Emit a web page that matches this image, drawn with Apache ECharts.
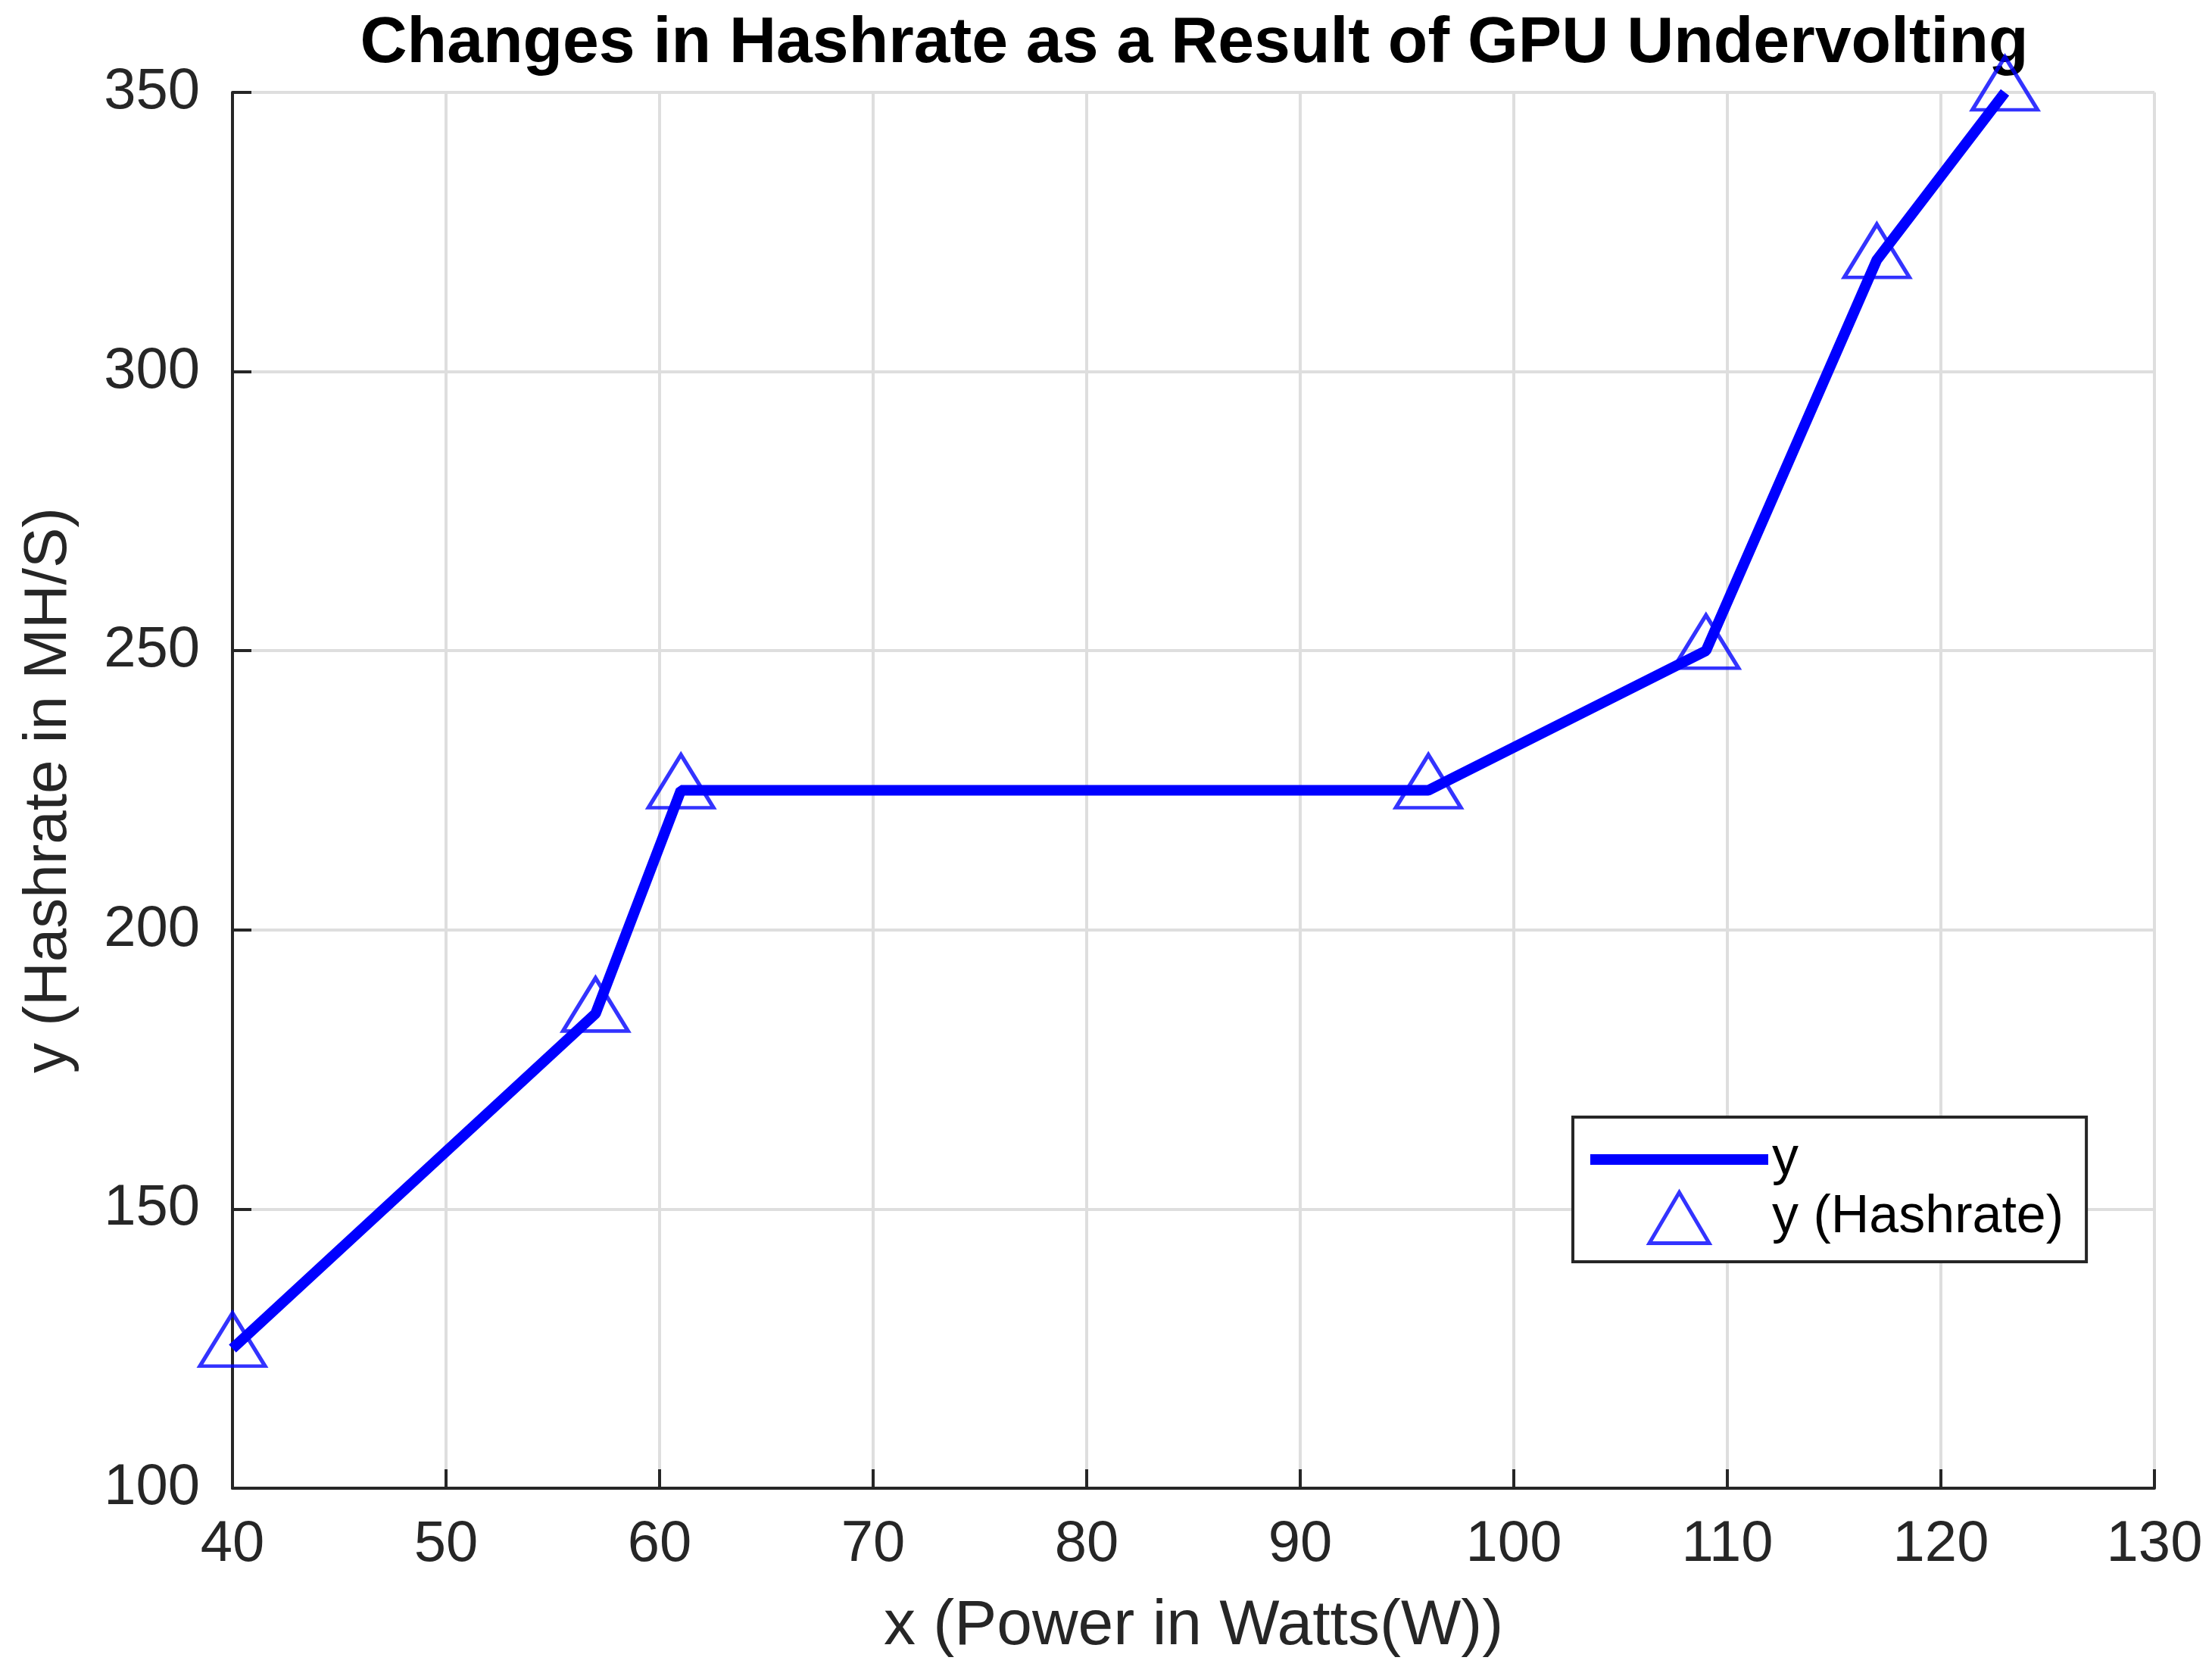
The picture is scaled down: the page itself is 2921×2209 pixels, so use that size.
<!DOCTYPE html>
<html>
<head>
<meta charset="utf-8">
<title>Changes in Hashrate as a Result of GPU Undervolting</title>
<script src="https://cdn.jsdelivr.net/npm/echarts@6/dist/echarts.min.js"></script>
<style>
  html, body { margin: 0; padding: 0; background: #fff; }
  #main { width: 2921px; height: 2209px; }
</style>
</head>
<body>
<div id="main"></div>
<script>
// power (W) and hashrate (MH/S)
var powerW = [40, 57, 61, 96, 109, 117, 123];
var hashrate = [125, 185, 225, 225, 250, 320, 350];

var xTicks = { min: 40, max: 130, step: 10 };
var yTicks = { min: 100, max: 350, step: 50 };

var titleText = 'Changes in Hashrate as a Result of GPU Undervolting';
var xName = 'x (Power in Watts(W))';
var yName = 'y (Hashrate in MH/S)';
var lineName = 'y';
var markerName = 'y (Hashrate)';

var points = powerW.map(function (x, i) { return [x, hashrate[i]]; });

var font = "'Liberation Sans', Arial, Helvetica, sans-serif";
var axisColor = '#262626';
var blue = '#0000ff';

var chart = echarts.init(document.getElementById('main'));

function axisCommon() {
  return {
    axisLine: { show: true, lineStyle: { color: axisColor, width: 4 } },
    axisTick: { show: true, inside: true, length: 25, lineStyle: { color: axisColor, width: 4 } },
    splitLine: { show: true, lineStyle: { color: '#dedede', width: 4 } }
  };
}

var xAxis = Object.assign(axisCommon(), {
  type: 'value',
  min: xTicks.min, max: xTicks.max, interval: xTicks.step,
  name: xName, nameLocation: 'middle', nameGap: 141,
  nameTextStyle: { fontFamily: font, fontSize: 84, color: axisColor },
  axisLabel: { fontFamily: font, fontSize: 76, color: axisColor, margin: 37 }
});

var yAxis = Object.assign(axisCommon(), {
  type: 'value',
  min: yTicks.min, max: yTicks.max, interval: yTicks.step,
  name: yName, nameLocation: 'middle', nameGap: 202, nameRotate: 90,
  nameTextStyle: { fontFamily: font, fontSize: 80, color: axisColor },
  axisLabel: { fontFamily: font, fontSize: 76, color: axisColor, margin: 43 }
});

chart.setOption({
  backgroundColor: '#ffffff',
  animation: false,
  title: {
    text: titleText,
    left: 1572, top: 10, textAlign: 'center', z: 1,
    textStyle: { fontFamily: font, fontSize: 86, fontWeight: 'bold', color: '#000' }
  },
  grid: { left: 307, right: 76, top: 122, bottom: 244, containLabel: false, outerBoundsMode: 'none' },
  legend: {
    orient: 'vertical',
    left: 2077, top: 1475,
    padding: [21, 30, 22, 23],
    itemWidth: 235, itemHeight: 67, itemGap: 6,
    borderColor: axisColor, borderWidth: 4,
    backgroundColor: '#fff',
    textStyle: { fontFamily: font, fontSize: 70, color: '#000', lineHeight: 70 },
    data: [
      {
        name: lineName,
        icon: 'path://M0,0H235V14H0Z',
        itemStyle: { color: blue, borderWidth: 0 }
      },
      {
        name: markerName,
        icon: 'path://M0,67L39.5,0L79,67Z',
        itemStyle: { color: 'rgba(0,0,0,0)', borderColor: blue, borderWidth: 5 }
      }
    ]
  },
  xAxis: xAxis,
  yAxis: yAxis,
  series: [
    {
      name: lineName,
      type: 'line',
      data: points,
      symbol: 'none',
      color: blue,
      lineStyle: { color: blue, width: 14 },
      z: 3
    },
    {
      name: markerName,
      type: 'scatter',
      data: points,
      symbol: 'triangle',
      symbolSize: [86, 70],
      symbolOffset: [0, -12],
      clip: false,
      itemStyle: { color: 'rgba(0,0,0,0)', borderColor: blue, borderWidth: 5 },
      z: 4
    }
  ]
});
</script>
</body>
</html>
